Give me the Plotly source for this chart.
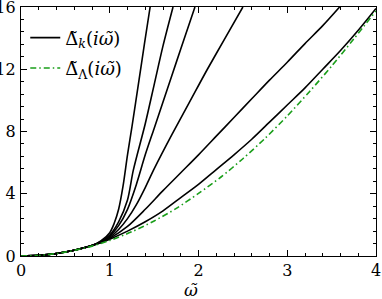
import plotly.graph_objects as go

# ---- data ----
low_x = [0.0, 0.2, 0.4, 0.6, 0.8]
low_y = [0.0, 0.04, 0.16, 0.37, 0.67]

k1_x = low_x + [0.9, 1.0, 1.05, 1.1, 1.15, 1.2, 1.25, 1.33, 1.39, 1.455]
k1_y = low_y + [0.97, 1.5, 2.1, 3.0, 4.5, 6.5, 8.3, 11.31, 13.6, 16.0]

k2_x = low_x + [0.9, 1.0, 1.1, 1.2, 1.265, 1.4, 1.5, 1.6, 1.713]
k2_y = low_y + [0.93, 1.35, 2.2, 3.6, 5.5, 8.5, 11.0, 13.5, 16.0]

k3_x = low_x + [0.9, 1.0, 1.1, 1.2, 1.3, 1.4, 1.5, 1.6, 1.7, 1.8, 1.96]
k3_y = low_y + [0.9, 1.28, 1.95, 3.0, 4.6, 6.5, 8.2, 9.9, 11.6, 13.3, 16.0]

k4_x = low_x + [0.9, 1.0, 1.1, 1.2, 1.3, 1.4, 1.5, 1.7, 1.9, 2.1, 2.3, 2.5]
k4_y = low_y + [0.88, 1.2, 1.7, 2.4, 3.3, 4.4, 5.6, 7.8, 9.9, 12.0, 14.0, 16.0]

k5_x = low_x + [0.9, 1.0, 1.2, 1.4, 1.6, 1.8, 2.0, 2.2, 2.4, 2.6, 2.8, 3.0, 3.2, 3.4, 3.59]
k5_y = low_y + [0.87, 1.13, 1.9, 3.0, 4.2, 5.35, 6.5, 7.7, 8.9, 10.1, 11.3, 12.45, 13.65, 14.8, 16.0]

k6_x = low_x + [0.9, 1.0, 1.2, 1.4, 1.6, 1.8, 2.0, 2.2, 2.4, 2.6, 2.8, 3.0, 3.2, 3.4, 3.6, 3.8, 4.0]
k6_y = low_y + [0.85, 1.08, 1.6, 2.2, 2.9, 3.75, 4.6, 5.55, 6.5, 7.5, 8.6, 9.7, 10.8, 12.0, 13.2, 14.5, 15.9]

lam_x = [0.0, 0.25, 0.5, 0.75, 1.0, 1.25, 1.5, 1.75, 2.0, 2.25, 2.5, 2.75, 3.0, 3.25, 3.5, 3.75, 4.0]
lam_y = [0.0, 0.06, 0.25, 0.56, 1.0, 1.56, 2.25, 3.06, 4.02, 5.06, 6.25, 7.56, 9.0, 10.56, 12.2, 13.95, 15.75]

x_ticks = [0, 1, 2, 3, 4]
y_ticks = [0, 4, 8, 12, 16]

label_k = "Δ̃<sub><i>k</i></sub>(<i>iω̃</i>)"
label_L = "Δ̃<sub>Λ</sub>(<i>iω̃</i>)"
x_title = "<i>ω̃</i>"

FONT = "DejaVu Serif, Liberation Serif, serif"

fig = go.Figure()
curves = [(k1_x, k1_y), (k2_x, k2_y), (k3_x, k3_y), (k4_x, k4_y), (k5_x, k5_y), (k6_x, k6_y)]
for i, (cx, cy) in enumerate(curves):
    fig.add_trace(go.Scatter(
        x=cx, y=cy, mode="lines",
        line=dict(color="black", width=1.6, shape="spline", smoothing=0.8),
        name=label_k, showlegend=(i == 0), legendgroup="k",
    ))
fig.add_trace(go.Scatter(
    x=lam_x, y=lam_y, mode="lines",
    line=dict(color="#1a9e1a", width=1.6, dash="6px,3px,1.5px,3px", shape="spline", smoothing=0.8),
    name=label_L, legendgroup="L",
))

axis_common = dict(
    showgrid=False, zeroline=False, showline=True, linecolor="black", linewidth=1.2,
    mirror="ticks", ticks="inside", ticklen=6, tickwidth=1, tickcolor="black",
    tickfont=dict(family=FONT, size=16, color="black"),
    ticklabeloverflow="allow", automargin=False,
)

fig.update_xaxes(range=[0, 4], tickvals=x_ticks, ticktext=[str(v) for v in x_ticks],
                 minor=dict(ticks="inside", dtick=0.2, ticklen=3, tickcolor="black"),
                 **axis_common)
fig.update_yaxes(range=[0, 16], tickvals=y_ticks, ticktext=[str(v) for v in y_ticks],
                 minor=dict(ticks="inside", dtick=0.8, ticklen=3, tickcolor="black"),
                 ticklabelstandoff=1,
                 **axis_common)

fig.add_annotation(text=x_title, xref="paper", yref="paper", x=0.48, y=-0.135,
                   xanchor="center", yanchor="middle", showarrow=False,
                   font=dict(family=FONT, size=17, color="black"))

fig.update_layout(
    width=382, height=299,
    font=dict(family=FONT, color="black"),
    margin=dict(l=20.5, r=5.5, t=7, b=43, autoexpand=False),
    plot_bgcolor="white", paper_bgcolor="white",
    showlegend=True,
    legend=dict(x=0.012, y=0.95, xanchor="left", yanchor="top",
                bgcolor="rgba(0,0,0,0)", font=dict(family=FONT, size=18, color="black"),
                traceorder="grouped", tracegroupgap=4),
)

fig.write_html(
    "out.html",
    config={"displayModeBar": False},
    post_script="document.body.style.margin='0';document.body.style.padding='0';document.body.style.overflow='hidden';",
)
